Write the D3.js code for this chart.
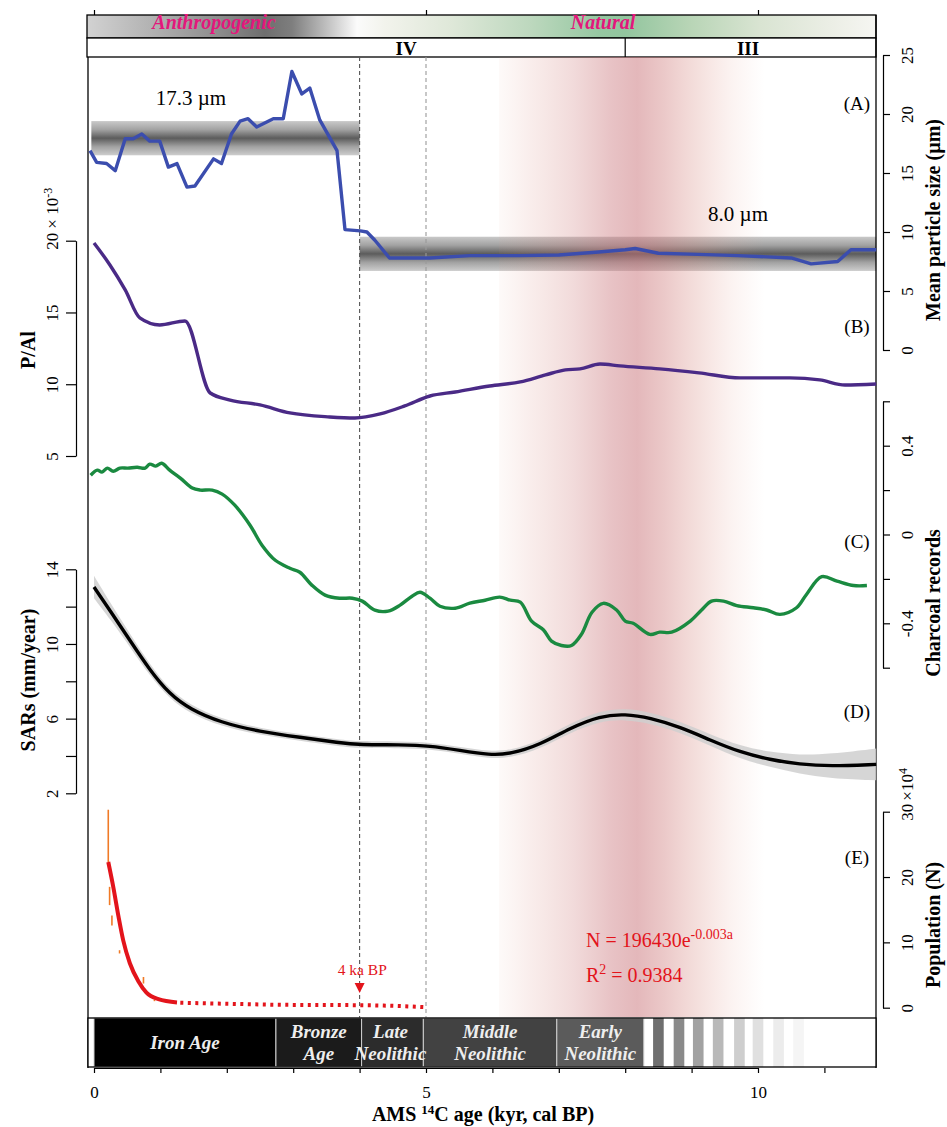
<!DOCTYPE html>
<html><head><meta charset="utf-8">
<script src="https://cdn.jsdelivr.net/npm/d3@7"></script>
<style>
body{margin:0;background:#fff}
svg{display:block}
text{font-family:"Liberation Serif","Times New Roman",serif}
</style>
</head><body>
<svg id="c" width="947" height="1127"></svg>
<script>
// ---------------- DATA ----------------
// (A) mean particle size (µm)
const psAge = [-0.06,0.04,0.19,0.32,0.47,0.59,0.72,0.84,0.99,1.12,1.25,1.40,1.52,1.80,1.92,2.07,2.20,2.32,2.45,2.70,2.85,2.98,3.13,3.25,3.40,3.66,3.78,4.01,4.11,4.23,4.45,5.06,5.66,6.4,7.0,7.6,8.0,8.15,8.5,9.1,9.7,10.5,10.8,11.2,11.4,11.78];
const psVal = [16.9,15.9,15.8,15.2,17.9,17.9,18.3,17.7,17.7,15.5,15.8,13.8,13.9,16.2,15.8,18.3,19.4,19.6,18.9,19.6,19.6,23.6,21.7,22.2,19.5,16.9,10.2,10.1,10.0,9.3,7.8,7.8,8.0,8.0,8.05,8.3,8.5,8.6,8.2,8.1,8.0,7.8,7.3,7.5,8.5,8.5];
const psMeanLabels = ["17.3 µm","8.0 µm"];
const psMeanStart = [-0.04, 4.0];
const psMeanEnd   = [4.0, 11.78];
const psMeanLo    = [16.5, 6.7];
const psMeanHi    = [19.4, 9.6];
const psMeanLabelAge = [1.46, 9.7];
const psMeanLabelVal = [20.8, 10.9];

// (B) P/Al (×10^-3)
const paAge = [0,0.24,0.47,0.69,0.99,1.37,1.75,2.05,2.5,2.95,3.55,3.93,4.31,4.68,5.06,5.44,5.96,6.42,6.8,7.1,7.32,7.62,7.92,8.52,9.11,9.73,10.48,10.93,11.31,11.78];
const paVal = [19.84,18.31,16.57,14.62,14.13,14.41,9.39,8.90,8.56,8.0,7.72,7.65,7.93,8.49,9.18,9.46,9.88,10.16,10.65,11.0,11.07,11.41,11.28,11.07,10.79,10.44,10.44,10.3,9.95,10.02];

// (C) charcoal records
const chAge = [-0.05,0.05,0.12,0.2,0.29,0.39,0.51,0.65,0.77,0.84,0.93,1.02,1.14,1.30,1.48,1.60,1.78,1.93,2.12,2.35,2.53,2.73,2.95,3.10,3.28,3.48,3.70,3.89,4.04,4.23,4.43,4.61,4.79,4.91,5.06,5.21,5.44,5.66,5.89,6.11,6.27,6.42,6.59,6.77,6.89,7.04,7.19,7.34,7.50,7.67,7.87,8.0,8.12,8.37,8.52,8.70,8.98,9.15,9.30,9.48,9.68,9.93,10.13,10.33,10.58,10.73,10.96,11.19,11.44,11.64];
const chVal = [0.267,0.290,0.281,0.299,0.285,0.299,0.299,0.303,0.299,0.317,0.308,0.321,0.290,0.254,0.209,0.200,0.200,0.182,0.132,0.042,-0.048,-0.116,-0.152,-0.170,-0.228,-0.273,-0.287,-0.287,-0.30,-0.341,-0.345,-0.318,-0.278,-0.26,-0.287,-0.323,-0.332,-0.309,-0.296,-0.282,-0.296,-0.305,-0.39,-0.43,-0.48,-0.50,-0.50,-0.45,-0.35,-0.31,-0.34,-0.39,-0.40,-0.45,-0.44,-0.44,-0.39,-0.34,-0.30,-0.30,-0.32,-0.33,-0.34,-0.36,-0.33,-0.27,-0.19,-0.21,-0.23,-0.23];

// (D) SARs (mm/year) with confidence half-width
const sarAge = [0,0.24,0.54,0.84,1.14,1.45,1.90,2.50,3.10,3.70,4.0,4.61,5.06,5.51,5.96,6.27,6.72,7.17,7.62,8.0,8.37,8.83,9.28,9.73,10.18,10.63,11.08,11.78];
const sarVal = [13.05,11.8,10.2,8.6,7.3,6.5,5.8,5.3,5.0,4.7,4.6,4.6,4.55,4.3,4.05,4.1,4.6,5.5,6.15,6.25,6.05,5.55,4.85,4.2,3.8,3.55,3.45,3.55];
const sarErr = [0.6,0.45,0.35,0.3,0.25,0.22,0.2,0.18,0.18,0.18,0.18,0.18,0.18,0.18,0.2,0.2,0.22,0.25,0.28,0.3,0.3,0.3,0.3,0.35,0.4,0.5,0.65,0.85];

// (E) population (×10^4)
const popFitAge = [0.215,0.29,0.37,0.44,0.54,0.67,0.79,0.97,1.25];
const popFitVal = [22.3,18.5,13.9,10.3,6.8,4.0,2.3,1.3,0.8];
const popExtAge = [1.3,2.0,2.8,4.0,4.6,4.98];
const popExtVal = [0.75,0.6,0.45,0.38,0.25,0.08];
const popObsAge = [0.215,0.235,0.27,0.385,0.745,0.91];
const popObsLo  = [22.3,15.7,12.6,8.3,3.7,1.0];
const popObsHi  = [30.3,18.5,14.1,8.8,4.7,1.2];

// periods
const periodNames = [["Iron Age"],["Bronze","Age"],["Late","Neolithic"],["Middle","Neolithic"],["Early","Neolithic"]];
const periodStart = [0,2.74,4.03,4.96,6.97];
const periodEnd   = [2.74,4.03,4.96,6.97,8.28];
const stripeStart = [8.42,8.73,9.02,9.32,9.64,9.92,10.23,10.53];
const stageNames = ["IV","III"];
const stageStart = [-0.1,8.0];
const stageEnd   = [8.0,11.78];
const stageLabelAge = [4.7,9.85];
const xTicks = [0,1,2,3,4,5,6,7,8,9,10,11];
const xLabels = [0,5,10];
const boundaryAges = [4.0,5.0];

// ---------------- STYLE ----------------
const periodFill = ["#000000","#1b1b1b","#2c2c2c","#424242","#5b5b5b"];
const stripeFill = ["#6f6f6f","#8a8a8a","#a2a2a2","#b9b9b9","#cecece","#e0e0e0","#ececec","#f5f5f5"];

const svg = d3.select("#c");
const defs = svg.append("defs");
const x = d3.scaleLinear().domain([0,10]).range([94,758]);
const xL = 88, xR = 876;
const yA = d3.scaleLinear().domain([0,25]).range([350,55]);
const yB = d3.scaleLinear().domain([5,20]).range([456,240.7]);
const yC = d3.scaleLinear().domain([-0.6,0.6]).range([667.7,401.3]);
const yD = d3.scaleLinear().domain([2,14]).range([793.3,569.3]);
const yE = d3.scaleLinear().domain([0,30]).range([1007.7,811.7]);

// gradients
const topG = defs.append("linearGradient").attr("id","topG").attr("gradientUnits","userSpaceOnUse").attr("x1",87).attr("x2",876).attr("y1",0).attr("y2",0);
[[87,"#d2d2d2"],[150,"#b3b3b3"],[220,"#8c8c8c"],[265,"#6e6e6e"],[292,"#7e7e7e"],[330,"#c6c6c6"],[357,"#fbfbfb"],[385,"#f2f3ec"],[450,"#dfe8d9"],[530,"#bdd8be"],[600,"#95c7a1"],[625,"#92c59e"],[690,"#b8d5b6"],[760,"#d9e4d2"],[830,"#ebeee5"],[876,"#f6f6f2"]]
 .forEach(s=>topG.append("stop").attr("offset",(s[0]-87)/(876-87)).attr("stop-color",s[1]));

const grayG = defs.append("linearGradient").attr("id","grayG").attr("x1",0).attr("x2",0).attr("y1",0).attr("y2",1);
[[0,"#c9c9c9"],[0.25,"#a2a2a2"],[0.5,"#5c5c5c"],[0.75,"#a2a2a2"],[1,"#cdcdcd"]].forEach(s=>grayG.append("stop").attr("offset",s[0]).attr("stop-color",s[1]));

const pinkG = defs.append("linearGradient").attr("id","pinkG").attr("x1",0).attr("x2",1).attr("y1",0).attr("y2",0);
[[0,0.05,"rgb(225,150,130)"],[0.12,0.15,"rgb(215,135,125)"],[0.28,0.27,"rgb(205,120,120)"],[0.42,0.42,"rgb(200,112,118)"],[0.52,0.5,"rgb(200,112,118)"],[0.62,0.4,"rgb(205,118,118)"],[0.75,0.26,"rgb(215,135,125)"],[0.88,0.11,"rgb(225,150,135)"],[1,0,"rgb(230,160,140)"]]
 .forEach(s=>pinkG.append("stop").attr("offset",s[0]).attr("stop-color",s[2]).attr("stop-opacity",s[1]));

// ---- top bands
svg.append("rect").attr("x",87).attr("y",15).attr("width",876-87).attr("height",23).attr("fill","url(#topG)").attr("stroke","#000").attr("stroke-width",1.3);
svg.append("rect").attr("x",87).attr("y",38).attr("width",876-87).attr("height",19).attr("fill","#fff").attr("stroke","#000").attr("stroke-width",1.3);
svg.append("line").attr("x1",x(stageStart[1])).attr("x2",x(stageStart[1])).attr("y1",38).attr("y2",57).attr("stroke","#000").attr("stroke-width",1.2);
svg.selectAll(".stg").data(stageNames).enter().append("text").attr("x",(d,i)=>x(stageLabelAge[i])).attr("y",54.5).attr("text-anchor","middle").attr("font-size",19).attr("font-weight","bold").text(d=>d);
svg.append("text").attr("x",214).attr("y",29).attr("text-anchor","middle").attr("font-size",20).attr("font-style","italic").attr("font-weight","bold").attr("fill","#e3177c").text("Anthropogenic");
svg.append("text").attr("x",603).attr("y",29).attr("text-anchor","middle").attr("font-size",20).attr("font-style","italic").attr("font-weight","bold").attr("fill","#e3177c").text("Natural");
const gTop = svg.append("g").attr("transform","translate(0,15)").call(d3.axisTop(x).tickValues(xLabels).tickSize(5).tickFormat(""));
gTop.select(".domain").remove();
gTop.selectAll(".tick line").attr("stroke-width",1.2);

// ---- mean particle-size bands
svg.selectAll(".mband").data(psMeanStart).enter().append("rect")
  .attr("x",(d,i)=>x(psMeanStart[i])).attr("width",(d,i)=>x(psMeanEnd[i])-x(psMeanStart[i]))
  .attr("y",(d,i)=>yA(psMeanHi[i])).attr("height",(d,i)=>yA(psMeanLo[i])-yA(psMeanHi[i]))
  .attr("fill","url(#grayG)");

// ---- pink band
svg.append("rect").attr("x",x(6.1)).attr("width",x(10.1)-x(6.1)).attr("y",57).attr("height",1017-57).attr("fill","url(#pinkG)");

// ---- boundary dashed lines
svg.selectAll(".bnd").data(boundaryAges).enter().append("line")
  .attr("x1",d=>x(d)).attr("x2",d=>x(d)).attr("y1",57).attr("y2",1018)
  .attr("stroke",(d,i)=>i===0?"#555":"#9a9a9a").attr("stroke-width",1.1).attr("stroke-dasharray","4,3");

// ---- frame
svg.append("line").attr("x1",xL).attr("x2",xL).attr("y1",57).attr("y2",1068).attr("stroke","#000").attr("stroke-width",1.3);
svg.append("line").attr("x1",xR).attr("x2",xR).attr("y1",15).attr("y2",1068).attr("stroke","#000").attr("stroke-width",1.3);

// ---- series lines
const lineA = d3.line().x((d,i)=>x(psAge[i])).y((d,i)=>yA(psVal[i]));
svg.append("path").attr("d",lineA(psVal)).attr("fill","none").attr("stroke","#3b4dae").attr("stroke-width",3.4).attr("stroke-linejoin","round");

const lineB = d3.line().x((d,i)=>x(paAge[i])).y((d,i)=>yB(paVal[i])).curve(d3.curveMonotoneX);
svg.append("path").attr("d",lineB(paVal)).attr("fill","none").attr("stroke","#4a2a86").attr("stroke-width",3.4);

const lineC = d3.line().x((d,i)=>x(chAge[i])).y((d,i)=>yC(chVal[i])).curve(d3.curveCatmullRom);
svg.append("path").attr("d",lineC(chVal)).attr("fill","none").attr("stroke","#1a8a40").attr("stroke-width",3.4);

const areaD = d3.area().x((d,i)=>x(sarAge[i])).y0((d,i)=>yD(sarVal[i]-sarErr[i])).y1((d,i)=>yD(sarVal[i]+sarErr[i])).curve(d3.curveBasis);
svg.append("path").attr("d",areaD(sarVal)).attr("fill","#cfcfcf").attr("opacity",0.85);
const lineD = d3.line().x((d,i)=>x(sarAge[i])).y((d,i)=>yD(sarVal[i])).curve(d3.curveBasis);
svg.append("path").attr("d",lineD(sarVal)).attr("fill","none").attr("stroke","#000").attr("stroke-width",3.4);

svg.selectAll(".obs").data(popObsAge).enter().append("line")
  .attr("x1",d=>x(d)).attr("x2",d=>x(d)).attr("y1",(d,i)=>yE(popObsLo[i])).attr("y2",(d,i)=>yE(popObsHi[i]))
  .attr("stroke","#f07a26").attr("stroke-width",1.6);
const lineE = d3.line().x((d,i)=>x(popFitAge[i])).y((d,i)=>yE(popFitVal[i])).curve(d3.curveMonotoneX);
svg.append("path").attr("d",lineE(popFitVal)).attr("fill","none").attr("stroke","#e3141b").attr("stroke-width",4);
const lineE2 = d3.line().x((d,i)=>x(popExtAge[i])).y((d,i)=>yE(popExtVal[i])).curve(d3.curveMonotoneX);
svg.append("path").attr("d",lineE2(popExtVal)).attr("fill","none").attr("stroke","#e3141b").attr("stroke-width",4).attr("stroke-dasharray","3,4.5");

// annotations
svg.selectAll(".mlab").data(psMeanLabels).enter().append("text")
  .attr("x",(d,i)=>x(psMeanLabelAge[i])).attr("y",(d,i)=>yA(psMeanLabelVal[i])).attr("text-anchor","middle").attr("font-size",21).text(d=>d);
["(A)","(B)","(C)","(D)","(E)"].forEach((t,i)=>{
  svg.append("text").attr("x",857).attr("y",[110,333,548,718,864][i]).attr("text-anchor","middle").attr("font-size",19).text(t);
});
svg.append("text").attr("x",x(4.04)).attr("y",975).attr("text-anchor","middle").attr("font-size",15.5).attr("fill","#e3141b").text("4 ka BP");
svg.append("path").attr("d",`M${x(4.0)-5},983 L${x(4.0)+5},983 L${x(4.0)},993 Z`).attr("fill","#e3141b");
const f1 = svg.append("text").attr("x",586).attr("y",947).attr("font-size",20).attr("fill","#e3141b");
f1.append("tspan").text("N = 196430e");
f1.append("tspan").attr("dy",-8).attr("font-size",14).text("-0.003a");
const f2 = svg.append("text").attr("x",586).attr("y",982).attr("font-size",20).attr("fill","#e3141b");
f2.append("tspan").text("R");
f2.append("tspan").attr("dy",-8).attr("font-size",14).text("2");
f2.append("tspan").attr("dy",8).text(" = 0.9384");

// ---- axes
function styleAxis(g, off){
  g.attr("font-size",17).attr("font-family","Liberation Serif, Times New Roman, serif");
  g.select(".domain").attr("stroke-width",1.2);
  g.selectAll(".tick line").attr("stroke-width",1.2);
  g.selectAll(".tick text").attr("x",0).attr("y",0).attr("dy",null).attr("text-anchor","middle")
    .attr("transform",`translate(${off},0) rotate(-90)`).attr("fill","#000");
}
const gB = svg.append("g").attr("transform","translate(76,0)")
  .call(d3.axisLeft(yB).tickValues([5,10,15,20]).tickSize(10).tickSizeOuter(0));
styleAxis(gB,-18);
const gD = svg.append("g").attr("transform","translate(76,0)")
  .call(d3.axisLeft(yD).tickValues([2,4,6,8,10,12,14]).tickSize(10).tickSizeOuter(0).tickFormat(d=>[2,6,10,14].includes(d)?d:""));
styleAxis(gD,-18);
const gA = svg.append("g").attr("transform","translate(883,0)")
  .call(d3.axisRight(yA).tickValues([0,5,10,15,20,25]).tickSize(7).tickSizeOuter(0));
styleAxis(gA,30);
const gC = svg.append("g").attr("transform","translate(883,0)")
  .call(d3.axisRight(yC).tickValues([-0.6,-0.4,-0.2,0,0.2,0.4,0.6]).tickSize(7).tickSizeOuter(0)
  .tickFormat(d=>Math.abs(d)<1e-9?"0":(Math.abs(Math.abs(d)-0.4)<1e-9?d3.format(".1f")(d).replace("−","-"):"")));
styleAxis(gC,30);
const gE = svg.append("g").attr("transform","translate(883,0)")
  .call(d3.axisRight(yE).tickValues([0,10,20,30]).tickSize(7).tickSizeOuter(0));
styleAxis(gE,30);

// exponent parts
const e1 = svg.append("text").attr("transform",`translate(58,${yB(20)-12}) rotate(-90)`).attr("font-size",17);
e1.append("tspan").text("× 10");
e1.append("tspan").attr("dy",-6).attr("font-size",12).text("-3");
const e2 = svg.append("text").attr("transform",`translate(913,${yE(30)-11}) rotate(-90)`).attr("font-size",17);
e2.append("tspan").text("×10");
e2.append("tspan").attr("dy",-6).attr("font-size",12).text("4");

// axis titles
function vtitle(t, cx, cy){
  return svg.append("text").attr("transform",`translate(${cx},${cy}) rotate(-90)`).attr("text-anchor","middle").attr("font-size",20).attr("font-weight","bold").text(t);
}
vtitle("P/Al",35,350);
vtitle("SARs (mm/year)",35,680);
vtitle("Mean particle size (µm)",940,220);
vtitle("Charcoal records",940,603);
vtitle("Population (N)",940,925);

// ---- period band
svg.append("rect").attr("x",xL).attr("y",1018).attr("width",xR-xL).attr("height",49).attr("fill","#fff");
svg.selectAll(".per").data(periodStart).enter().append("rect")
  .attr("x",(d,i)=>x(periodStart[i])).attr("width",(d,i)=>x(periodEnd[i])-x(periodStart[i]))
  .attr("y",1018).attr("height",49).attr("fill",(d,i)=>periodFill[i]).attr("stroke","#cfcfcf").attr("stroke-width",1);
svg.selectAll(".str").data(stripeStart).enter().append("rect")
  .attr("x",d=>x(d)).attr("width",x(0.16)-x(0)).attr("y",1018).attr("height",49).attr("fill",(d,i)=>stripeFill[i]);
svg.append("rect").attr("x",xL).attr("y",1018).attr("width",xR-xL).attr("height",49).attr("fill","none").attr("stroke","#000").attr("stroke-width",1.3);
periodNames.forEach((lines,i)=>{
  const cx = (x(periodStart[i])+x(periodEnd[i]))/2 + (i===2? -2:0);
  lines.forEach((t,j)=>{
    const yy = lines.length===1 ? 1049 : (j===0?1038:1060);
    svg.append("text").attr("x",cx).attr("y",yy).attr("text-anchor","middle").attr("font-size",19).attr("font-style","italic").attr("font-weight","bold").attr("fill","#eeeeee").text(t);
  });
});

// ---- bottom axis
const gX = svg.append("g").attr("transform","translate(0,1068)")
  .call(d3.axisBottom(x).tickValues(xTicks).tickSize(5).tickSizeOuter(0).tickFormat(d=>xLabels.includes(d)?d:""));
gX.attr("font-size",17).attr("font-family","Liberation Serif, Times New Roman, serif");
gX.select(".domain").attr("stroke-width",1.2);
gX.selectAll(".tick line").attr("stroke-width",1.2);
gX.selectAll(".tick text").attr("y",30).attr("dy",null).attr("fill","#000");
const xt = svg.append("text").attr("x",483).attr("y",1121).attr("text-anchor","middle").attr("font-size",20).attr("font-weight","bold");
xt.append("tspan").text("AMS ");
xt.append("tspan").attr("dy",-7).attr("font-size",13).text("14");
xt.append("tspan").attr("dy",7).text("C age (kyr, cal BP)");
</script>
</body></html>
